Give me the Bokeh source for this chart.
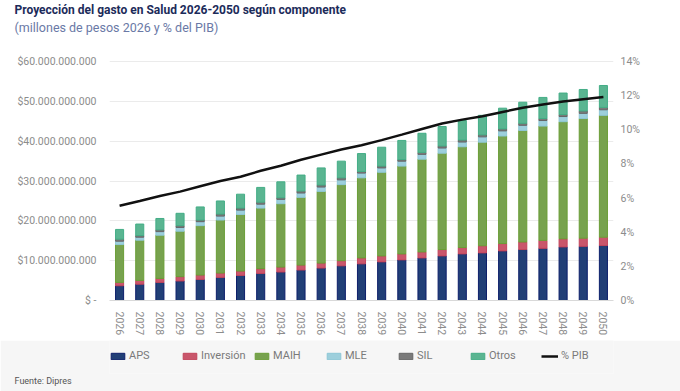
from bokeh.plotting import figure
from bokeh.layouts import column
from bokeh.models import (ColumnDataSource, FactorRange, Range1d, LinearAxis, FixedTicker,
                          Title, Legend, LegendItem, PrintfTickFormatter)
from bokeh.embed import file_html
from bokeh.resources import INLINE

years = [str(y) for y in range(2026, 2051)]
# components in billions (miles de millones) as shown on the left axis scale
aps = [3.7, 4.1, 4.55, 4.9, 5.3, 5.8, 6.3, 6.8, 7.15, 7.65, 8.15, 8.7, 9.2, 9.7, 10.2,
       10.7, 11.2, 11.7, 11.95, 12.45, 12.8, 13.1, 13.45, 13.6, 13.8]
inversion = [0.85, 0.95, 1.0, 1.1, 1.1, 1.1, 1.1, 1.2, 1.25, 1.25, 1.25, 1.3, 1.5, 1.5, 1.5,
             1.5, 1.6, 1.6, 1.8, 1.85, 1.9, 2.0, 2.05, 2.05, 2.1]
maih = [9.5, 10.1, 10.85, 11.4, 12.4, 13.3, 14.2, 15.2, 15.9, 17.0, 18.0, 19.1, 20.1, 21.0,
        22.05, 23.3, 24.2, 25.3, 26.0, 27.0, 28.0, 28.7, 29.4, 30.05, 30.6]
mle = [0.85, 0.75, 0.9, 0.95, 1.0, 1.0, 1.1, 1.0, 1.1, 1.1, 1.1, 1.2, 1.2, 1.1, 1.25,
       1.2, 1.3, 1.2, 1.35, 1.3, 1.3, 1.4, 1.3, 1.3, 1.4]
sil = [0.5, 0.4, 0.45, 0.45, 0.4, 0.5, 0.5, 0.5, 0.4, 0.5, 0.5, 0.5, 0.4, 0.45, 0.4,
       0.5, 0.5, 0.5, 0.5, 0.5, 0.5, 0.5, 0.5, 0.6, 0.6]
otros = [2.45, 2.9, 2.85, 3.1, 3.3, 3.3, 3.5, 3.7, 4.0, 4.0, 4.3, 4.2, 4.5, 4.75, 4.8,
         4.8, 4.9, 4.9, 4.9, 5.2, 5.3, 5.3, 5.4, 5.4, 5.5]
pib = [5.55, 5.83, 6.12, 6.38, 6.7, 7.0, 7.25, 7.6, 7.9, 8.25, 8.55, 8.85, 9.1, 9.4, 9.72,
       10.05, 10.37, 10.6, 10.8, 11.05, 11.29, 11.48, 11.66, 11.8, 11.92]

left_ticks = [0, 10, 20, 30, 40, 50, 60]
right_ticks = [0, 2, 4, 6, 8, 10, 12, 14]

names = ["APS", "Inversión", "MAIH", "MLE", "SIL", "Otros"]
keys = ["aps", "inv", "maih", "mle", "sil", "otros"]
fills = ["#213f76", "#c9566b", "#77a24e", "#9dcfdc", "#7a7a7a", "#5ab591"]
lines = ["#0d1f6b", "#c2445b", "#6a9e36", "#8dc7d6", "#666666", "#43ad86"]

src = ColumnDataSource(dict(year=years, aps=aps, inv=inversion, maih=maih, mle=mle,
                            sil=sil, otros=otros, pib=pib))

# layout constants (pixels)
FRAME_TOP = 36.0      # top of the frame (below the two title lines)
ZERO_Y = 300.0        # y of the zero line
TOP_GRID_Y = 62.0     # y of the 60 / 14% gridline
y_end = 60 * (ZERO_Y - FRAME_TOP) / (ZERO_Y - TOP_GRID_Y)

p = figure(x_range=FactorRange(factors=years, range_padding=0), y_range=Range1d(0, y_end),
           width=680, height=340, output_backend="svg", toolbar_location=None,
           min_border_left=109, min_border_right=67, min_border_top=0, min_border_bottom=40,
           outline_line_color=None)

rs = p.vbar_stack(keys, x="year", width=0.4, source=src, fill_color=fills,
                  line_color=lines, line_width=1)

p.extra_y_ranges = {"pct": Range1d(0, y_end * 14 / 60)}
ln = p.line(x="year", y="pib", y_range_name="pct", source=src, line_color="#111111",
            line_width=2.5)

tick_color = "#8c8c8c"
font = "Roboto"

p.yaxis.ticker = FixedTicker(ticks=left_ticks)
p.yaxis.major_label_overrides = {
    t: ("$ -" if t == 0 else "$" + f"{int(t * 1e9):,}".replace(",", ".")) for t in left_ticks
}
ax_r = LinearAxis(y_range_name="pct", ticker=FixedTicker(ticks=right_ticks),
                  formatter=PrintfTickFormatter(format="%d%%"))
p.add_layout(ax_r, "right")

for ax in [p.yaxis[0], ax_r]:
    ax.axis_line_color = None
    ax.major_tick_line_color = None
    ax.minor_tick_line_color = None
    ax.major_label_text_color = tick_color
    ax.major_label_text_font = font
    ax.major_label_text_font_size = "10.5px"
p.yaxis[0].major_label_standoff = 7
ax_r.major_label_standoff = 1

xa = p.xaxis[0]
xa.axis_line_color = "#d9d9d9"
xa.major_tick_line_color = None
xa.minor_tick_line_color = None
xa.major_label_orientation = "vertical"
xa.major_label_text_color = tick_color
xa.major_label_text_font = font
xa.major_label_text_font_size = "10.5px"
xa.major_label_standoff = 5

p.xgrid.grid_line_color = None
p.ygrid.grid_line_color = "#ebebeb"
p.ygrid.grid_line_width = 1

p.add_layout(Title(text="(millones de pesos 2026 y % del PIB)", align="left", offset=-95,
                   standoff=2, text_font=font, text_font_size="12.5px",
                   text_font_style="normal", text_color="#6a79a6"), "above")
p.add_layout(Title(text="Proyección del gasto en Salud 2026-2050 según componente",
                   align="left", offset=-95, standoff=0,
                   text_font=font, text_font_size="12px", text_font_style="bold",
                   text_color="#1c2b5a"), "above")

# legend strip: a second figure, its frame aligned with the main one
LEG_H = 51
bg = "#f6f6f6"
q = figure(width=680, height=LEG_H, x_range=Range1d(0, 1), y_range=Range1d(0, 1),
           output_backend="svg", toolbar_location=None,
           min_border_left=109, min_border_right=67, min_border_top=0,
           min_border_bottom=18, border_fill_color=bg, background_fill_color=bg,
           x_axis_type=None, y_axis_type=None, outline_line_color=None)
q.xgrid.grid_line_color = None
q.ygrid.grid_line_color = None
nan = float("nan")
dummy = ColumnDataSource(dict(x=[nan], y=[nan]))
leg_rs = [q.vbar(x="x", top="y", width=1, source=dummy, fill_color=f, line_color=l,
                 line_width=1) for f, l in zip(fills, lines)]
leg_ln = q.line(x="x", y="y", source=dummy, line_color="#111111", line_width=2.5)

legend = Legend(items=[LegendItem(label=n, renderers=[r]) for n, r in zip(names, leg_rs)] +
                [LegendItem(label="% PIB", renderers=[leg_ln])],
                orientation="horizontal", location=(0, 11),
                border_line_color=None, background_fill_alpha=0,
                label_text_font=font, label_text_font_size="11px",
                label_text_color="#7a7a7a", glyph_width=17, glyph_height=8,
                spacing=0, padding=0, margin=0, label_standoff=3, label_width=52)
q.add_layout(legend, "center")

q.add_layout(Title(text="Fuente: Dipres", align="left", offset=-95, standoff=0,
                   text_font=font, text_font_size="9px", text_font_style="normal",
                   text_color="#555555"), "below")

open("out.html", "w").write(file_html(column(p, q, spacing=0), INLINE))
